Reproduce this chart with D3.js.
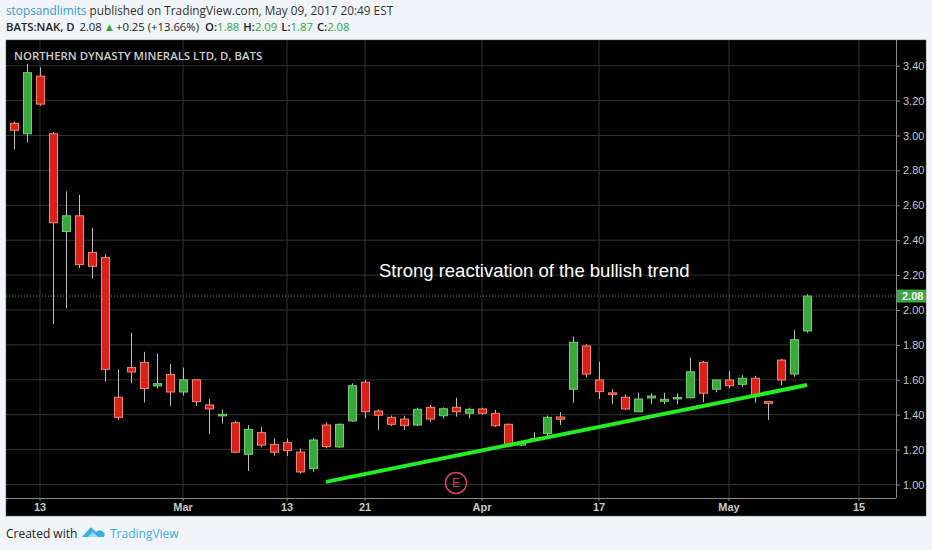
<!DOCTYPE html>
<html>
<head>
<meta charset="utf-8">
<script src="https://cdnjs.cloudflare.com/ajax/libs/d3/7.8.5/d3.min.js"></script>
<style>
  body { margin: 0; background: #f1f4f8; }
  svg { display: block; }
</style>
</head>
<body>
<div id="chart"></div>
<script>
// trading days shown (BATS:NAK, daily)
const dates = [
  "2017-02-09","2017-02-10","2017-02-13","2017-02-14","2017-02-15","2017-02-16","2017-02-17",
  "2017-02-21","2017-02-22","2017-02-23","2017-02-24","2017-02-27","2017-02-28",
  "2017-03-01","2017-03-02","2017-03-03","2017-03-06","2017-03-07","2017-03-08","2017-03-09","2017-03-10",
  "2017-03-13","2017-03-14","2017-03-15","2017-03-16","2017-03-17","2017-03-20","2017-03-21","2017-03-22",
  "2017-03-23","2017-03-24","2017-03-27","2017-03-28","2017-03-29","2017-03-30","2017-03-31",
  "2017-04-03","2017-04-04","2017-04-05","2017-04-06","2017-04-07","2017-04-10","2017-04-11","2017-04-12",
  "2017-04-13","2017-04-17","2017-04-18","2017-04-19","2017-04-20","2017-04-21","2017-04-24","2017-04-25",
  "2017-04-26","2017-04-27","2017-04-28","2017-05-01","2017-05-02","2017-05-03","2017-05-04","2017-05-05",
  "2017-05-08","2017-05-09"
];
const opens = [
  3.07,3.01,3.34,3.01,2.45,2.54,2.33,2.30,1.50,1.67,1.70,1.565,1.63,
  1.53,1.60,1.456,1.398,1.354,1.173,1.297,1.23,1.24,1.186,1.091,1.341,1.215,1.364,1.586,1.421,
  1.385,1.375,1.341,1.442,1.394,1.442,1.408,
  1.433,1.408,1.345,1.226,1.258,1.293,1.387,1.546,1.794,1.599,1.525,1.50,1.417,1.496,1.477,1.497,
  1.497,1.70,1.546,1.599,1.574,1.609,1.475,1.713,1.633,1.88
];
const highs = [
  3.08,3.41,3.39,3.02,2.68,2.66,2.47,2.32,1.66,1.87,1.76,1.75,1.69,
  1.67,1.60,1.49,1.43,1.364,1.34,1.328,1.265,1.265,1.207,1.265,1.356,1.35,1.58,1.599,1.431,
  1.395,1.394,1.44,1.455,1.442,1.497,1.44,
  1.44,1.427,1.35,1.25,1.30,1.395,1.414,1.847,1.805,1.704,1.547,1.517,1.526,1.523,1.526,1.523,
  1.727,1.708,1.60,1.65,1.627,1.623,1.476,1.72,1.885,2.09
];
const lows = [
  2.92,2.96,3.17,1.92,2.01,2.24,2.18,1.59,1.37,1.58,1.47,1.55,1.45,
  1.51,1.45,1.29,1.35,1.18,1.077,1.213,1.165,1.163,1.064,1.073,1.207,1.21,1.36,1.379,1.312,
  1.335,1.312,1.335,1.36,1.379,1.389,1.379,
  1.40,1.33,1.213,1.22,1.255,1.28,1.341,1.469,1.614,1.49,1.46,1.43,1.415,1.46,1.46,1.46,
  1.495,1.471,1.528,1.551,1.56,1.469,1.37,1.57,1.618,1.87
];
const closes = [
  3.03,3.36,3.18,2.50,2.54,2.26,2.25,1.66,1.385,1.645,1.55,1.578,1.53,
  1.60,1.475,1.433,1.402,1.185,1.316,1.226,1.185,1.194,1.072,1.255,1.217,1.345,1.566,1.417,1.397,
  1.345,1.339,1.431,1.375,1.434,1.417,1.431,
  1.408,1.337,1.222,1.24,1.262,1.385,1.374,1.815,1.633,1.532,1.52,1.433,1.49,1.507,1.488,1.499,
  1.646,1.523,1.599,1.566,1.609,1.507,1.465,1.599,1.83,2.08
];
// empty slots to the right of the last bar
const futureDates = ["2017-05-10","2017-05-11","2017-05-12","2017-05-15","2017-05-16","2017-05-17"];

const xTickDates  = ["2017-02-13","2017-03-01","2017-03-13","2017-03-21","2017-04-03","2017-04-17","2017-05-01","2017-05-15"];
const xTickLabels = ["13","Mar","13","21","Apr","17","May","15"];
const yTicks = [1.00,1.20,1.40,1.60,1.80,2.00,2.20,2.40,2.60,2.80,3.00,3.20,3.40];

const trendDates  = ["2017-03-16","2017-05-09"];
const trendPrices = [1.015, 1.57];
const earningsDate = "2017-03-30";
const earningsPrice = 1.009;
const lastPrice = 2.08;

const W = 932, H = 550;
const pane = {left: 6, top: 40, right: 926, bottom: 516};
const plot = {left: 6, top: 40, right: 896, bottom: 498};

const svg = d3.select("#chart").append("svg")
  .attr("width", W).attr("height", H);

// header
const head = svg.append("g").style("font-family", "'Open Sans', sans-serif");
const l1 = head.append("text").attr("x", 6).attr("y", 15).attr("fill", "#333").style("font-size", "11.8px");
l1.append("tspan").attr("fill", "#3a9ad9").text("stopsandlimits");
l1.append("tspan").text(" published on TradingView.com, May 09, 2017 20:49 EST");

const l2 = head.append("text").attr("x", 6).attr("y", 31).attr("fill", "#222").style("font-size", "11.3px");
l2.append("tspan").style("font-weight", 600).text("BATS:NAK, D");
l2.append("tspan").attr("dx", 5).text("2.08");
l2.append("tspan").attr("dx", 2).attr("fill", "#2ea83a").text("▲");
l2.append("tspan").attr("dx", 1).text("+0.25 (+13.66%)");
[["O:", "1.88"], ["H:", "2.09"], ["L:", "1.87"], ["C:", "2.08"]].forEach((p, i) => {
  l2.append("tspan").attr("dx", i === 0 ? 6 : 4).style("font-weight", 600).text(p[0]);
  l2.append("tspan").attr("fill", "#2ea83a").text(p[1]);
});

// pane background
svg.append("rect")
  .attr("x", pane.left).attr("y", pane.top)
  .attr("width", pane.right - pane.left).attr("height", pane.bottom - pane.top)
  .attr("fill", "#000").attr("stroke", "#555").attr("stroke-width", 0.5);

const x = d3.scaleBand()
  .domain(dates.concat(futureDates))
  .range([7.5, 7.5 + 13 * (dates.length + futureDates.length)]);
const cx = d => x(d) + x.bandwidth() / 2;

const y = d3.scaleLinear()
  .domain([1.0, 3.4])
  .range([484.5, 65.7]);

// grid
svg.append("g").selectAll("line.h")
  .data(yTicks).join("line")
    .attr("x1", plot.left).attr("x2", plot.right)
    .attr("y1", d => y(d)).attr("y2", d => y(d))
    .attr("stroke", "#333").attr("stroke-width", 1);
svg.append("g").selectAll("line.v")
  .data(xTickDates).join("line")
    .attr("x1", d => cx(d)).attr("x2", d => cx(d))
    .attr("y1", plot.top).attr("y2", plot.bottom)
    .attr("stroke", "#333").attr("stroke-width", 1);

// axes
const yAxis = svg.append("g")
  .attr("transform", `translate(${plot.right},0)`)
  .call(d3.axisRight(y).tickValues(yTicks).tickFormat(d3.format(".2f")).tickSize(4).tickPadding(3).tickSizeOuter(0));
yAxis.select(".domain").remove();
yAxis.selectAll(".tick line").attr("stroke", "#888");
yAxis.selectAll("text").attr("fill", "#c8c8c8")
  .style("font-family", "'Liberation Sans', Arial, sans-serif").style("font-size", "11px");

const xAxis = svg.append("g")
  .attr("transform", `translate(0,${plot.bottom})`)
  .call(d3.axisBottom(x).tickValues(xTickDates)
    .tickFormat((d, i) => xTickLabels[i]).tickSize(3).tickPadding(2).tickSizeOuter(0));
xAxis.select(".domain").remove();
xAxis.selectAll(".tick line").attr("stroke", "#888");
xAxis.selectAll("text").attr("fill", "#c8c8c8")
  .style("font-family", "'Liberation Sans', Arial, sans-serif").style("font-size", "11px").style("font-weight", "bold");

svg.append("line").attr("x1", plot.right + 0.5).attr("x2", plot.right + 0.5)
  .attr("y1", plot.top).attr("y2", plot.bottom).attr("stroke", "#888");
svg.append("line").attr("x1", plot.left).attr("x2", plot.right)
  .attr("y1", plot.bottom + 0.5).attr("y2", plot.bottom + 0.5).attr("stroke", "#888");

// title
svg.append("text").attr("x", 14).attr("y", 60)
  .attr("fill", "#cfcfcf")
  .style("font-family", "'Open Sans', sans-serif").style("font-size", "11.4px").style("font-weight", 600)
  .text("NORTHERN DYNASTY MINERALS LTD, D, BATS");

// last price line
svg.append("line")
  .attr("x1", plot.left).attr("x2", plot.right)
  .attr("y1", y(lastPrice)).attr("y2", y(lastPrice))
  .attr("stroke", "#3fa84a").attr("stroke-dasharray", "1,2");

// candles
const bars = dates.map((d, i) => ({date: d, o: opens[i], h: highs[i], l: lows[i], c: closes[i]}));
const candles = svg.append("g");
candles.selectAll("line")
  .data(bars).join("line")
    .attr("x1", d => Math.round(cx(d.date)) + 0.5).attr("x2", d => Math.round(cx(d.date)) + 0.5)
    .attr("y1", d => y(d.h)).attr("y2", d => y(d.l))
    .attr("stroke", "#bdbdbd").attr("stroke-width", 1);
candles.selectAll("rect")
  .data(bars).join("rect")
    .attr("x", d => Math.round(cx(d.date)) - 3.5)
    .attr("y", d => y(Math.max(d.o, d.c)))
    .attr("width", 8)
    .attr("height", d => Math.max(1.5, y(Math.min(d.o, d.c)) - y(Math.max(d.o, d.c))))
    .attr("fill", d => d.c >= d.o ? "#38a83d" : "#d8211b")
    .attr("stroke", d => d.c >= d.o ? "#6fd06f" : "#f5866a")
    .attr("stroke-width", 1);

// trend line
svg.append("line")
  .attr("x1", cx(trendDates[0])).attr("y1", y(trendPrices[0]))
  .attr("x2", cx(trendDates[1])).attr("y2", y(trendPrices[1]))
  .attr("stroke", "#22ee22").attr("stroke-width", 4);

// earnings marker
svg.append("circle")
  .attr("cx", cx(earningsDate)).attr("cy", y(earningsPrice)).attr("r", 10.5)
  .attr("fill", "none").attr("stroke", "#d83d5e").attr("stroke-width", 1.5);
svg.append("text")
  .attr("x", cx(earningsDate)).attr("y", y(earningsPrice) + 4.5)
  .attr("text-anchor", "middle").attr("fill", "#d83d5e")
  .style("font-family", "'Liberation Sans', Arial, sans-serif").style("font-size", "12px")
  .text("E");

// annotation
svg.append("text").attr("x", 379).attr("y", 277)
  .attr("fill", "#fff")
  .style("font-family", "'Liberation Sans', Arial, sans-serif").style("font-size", "18.5px")
  .text("Strong reactivation of the bullish trend");

// last price label
svg.append("rect")
  .attr("x", plot.right + 1).attr("y", y(lastPrice) - 6.5)
  .attr("width", pane.right - plot.right - 1).attr("height", 13)
  .attr("fill", "#3aa640");
svg.append("text")
  .attr("x", plot.right + 6).attr("y", y(lastPrice) + 4)
  .attr("fill", "#fff")
  .style("font-family", "'Liberation Sans', Arial, sans-serif").style("font-size", "11px").style("font-weight", "bold")
  .text("2.08");

// footer
const foot = svg.append("g").style("font-family", "'Open Sans', sans-serif").style("font-size", "12px");
foot.append("text").attr("x", 6).attr("y", 538).attr("fill", "#222").text("Created with");
foot.append("path")
  .attr("d", "M82,537 L90,528 Q91,527 92,528 L96,532 Q99,529 102,531 Q106,533 104,537 Z")
  .attr("fill", "#3bb0e0");
foot.append("path")
  .attr("d", "M88,537 L93,532 L98,537 Z").attr("fill", "#9fd8f0");
foot.append("text").attr("x", 110).attr("y", 538).attr("fill", "#3bb0e0").text("TradingView");
</script>
</body>
</html>
